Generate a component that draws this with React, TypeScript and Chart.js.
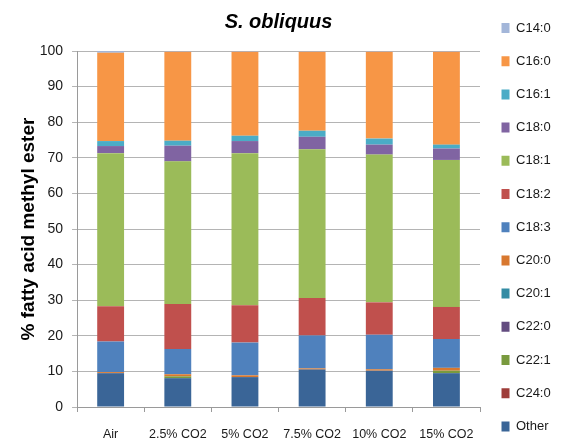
import React, { useEffect, useRef } from 'react';
import { Chart, registerables } from 'chart.js';

Chart.register(...registerables);

// Growth conditions on the x axis
const categories = ['Air', '2.5% CO2', '5% CO2', '7.5% CO2', '10% CO2', '15% CO2'];

// Fatty acid composition (% of total FAME), stacked from the bottom up
const other = [9.5, 8.1, 8.4, 10.5, 10.2, 9.5];
const c24_0 = [0, 0, 0, 0, 0, 0];
const c22_1 = [0, 0.5, 0, 0, 0, 0.7];
const c22_0 = [0, 0, 0, 0, 0, 0];
const c20_1 = [0, 0, 0, 0, 0, 0];
const c20_0 = [0.3, 0.6, 0.5, 0.35, 0.4, 0.8];
const c18_3 = [8.6, 7.1, 9.2, 9.25, 9.7, 8.1];
const c18_2 = [9.9, 12.6, 10.5, 10.5, 9.1, 9.0];
const c18_1 = [43.0, 40.1, 42.7, 41.8, 41.5, 41.3];
const c18_0 = [2.0, 4.4, 3.4, 3.5, 2.8, 3.2];
const c16_1 = [1.4, 1.4, 1.5, 1.7, 1.7, 1.1];
const c16_0 = [24.8, 25.0, 23.6, 22.2, 24.4, 26.1];
const c14_0 = [0.5, 0.2, 0.2, 0.2, 0.2, 0.2];

const seriesLabels = ['Other', 'C24:0', 'C22:1', 'C22:0', 'C20:1', 'C20:0', 'C18:3', 'C18:2', 'C18:1', 'C18:0', 'C16:1', 'C16:0', 'C14:0'];
const seriesValues = [other, c24_0, c22_1, c22_0, c20_1, c20_0, c18_3, c18_2, c18_1, c18_0, c16_1, c16_0, c14_0];
const seriesColors = ['#3A6597', '#9E3C39', '#799A3E', '#634C80', '#338CA4', '#D8782F', '#4F81BD', '#C0504D', '#9BBB59', '#8064A2', '#4BACC6', '#F79646', '#A3B6D9'];

// Y axis ticks
const yMin = 0;
const yMax = 100;
const yStep = 10;

const chartTitle = 'S. obliquus';
const yAxisTitle = '% fatty acid methyl ester';

const FONT = '"Liberation Sans", Arial, sans-serif';
const TEXT = '#1a1a1a';
const GRID = '#b4b4b4';
const AXIS = '#9a9a9a';

export default function App() {
  const canvasRef = useRef<HTMLCanvasElement | null>(null);

  useEffect(() => {
    const canvas = canvasRef.current;
    if (!canvas) return;

    const legendFontSize = 13;
    const legendPadding = 21.5;
    const legendRow = 33.2;

    const chart = new Chart(canvas, {
      type: 'bar',
      data: {
        labels: categories,
        datasets: seriesLabels.map((label, i) => ({
          label,
          data: seriesValues[i],
          backgroundColor: seriesColors[i],
          borderWidth: 0,
          categoryPercentage: 1,
          barPercentage: 0.4,
        })),
      },
      options: {
        responsive: false,
        animation: false,
        layout: { padding: { left: 10, right: 1.3, top: 0, bottom: -15 } },
        plugins: {
          tooltip: { enabled: false },
          title: {
            display: true,
            text: chartTitle,
            fullSize: false,
            color: '#000',
            font: { family: FONT, size: 20, weight: 'bold', style: 'italic', lineHeight: 1.2 },
            padding: { top: 10, bottom: 17 },
          },
          legend: {
            position: 'right',
            align: 'start',
            reverse: true,
            labels: {
              boxWidth: 8,
              boxHeight: 10,
              padding: legendPadding,
              color: TEXT,
              font: {
                family: FONT,
                size: legendFontSize,
                lineHeight: (legendRow - legendPadding) / legendFontSize,
              },
              generateLabels: (c: Chart) => {
                const items = Chart.defaults.plugins.legend.labels.generateLabels(c);
                // every entry above the bottom one takes a full legend row
                return items.map((it: any) => (it.datasetIndex === 0 ? it : { ...it, text: [it.text] }));
              },
            },
          },
        },
        scales: {
          x: {
            stacked: true,
            grid: {
              offset: true,
              drawOnChartArea: false,
              drawTicks: true,
              tickLength: 5,
              color: AXIS,
            },
            border: { color: AXIS },
            ticks: {
              color: TEXT,
              font: { family: FONT, size: 12.5, lineHeight: 1.2 },
              maxRotation: 0,
              autoSkip: false,
              padding: 15.5,
            },
          },
          y: {
            stacked: true,
            min: yMin,
            max: yMax,
            grid: { color: GRID, tickLength: 5 },
            border: { color: AXIS },
            ticks: {
              stepSize: yStep,
              color: TEXT,
              font: { family: FONT, size: 14 },
              padding: 9,
            },
            title: {
              display: true,
              text: yAxisTitle,
              color: '#000',
              font: { family: FONT, size: 19, weight: 'bold', lineHeight: 1.2 },
              padding: { top: 7.1, bottom: -9.2 },
            },
          },
        },
      },
    });

    return () => chart.destroy();
  }, []);

  return (
    <div style={{ position: 'absolute', left: 0, top: 0, width: 562, height: 443, background: '#fff' }}>
      <canvas ref={canvasRef} width={562} height={443} />
    </div>
  );
}
